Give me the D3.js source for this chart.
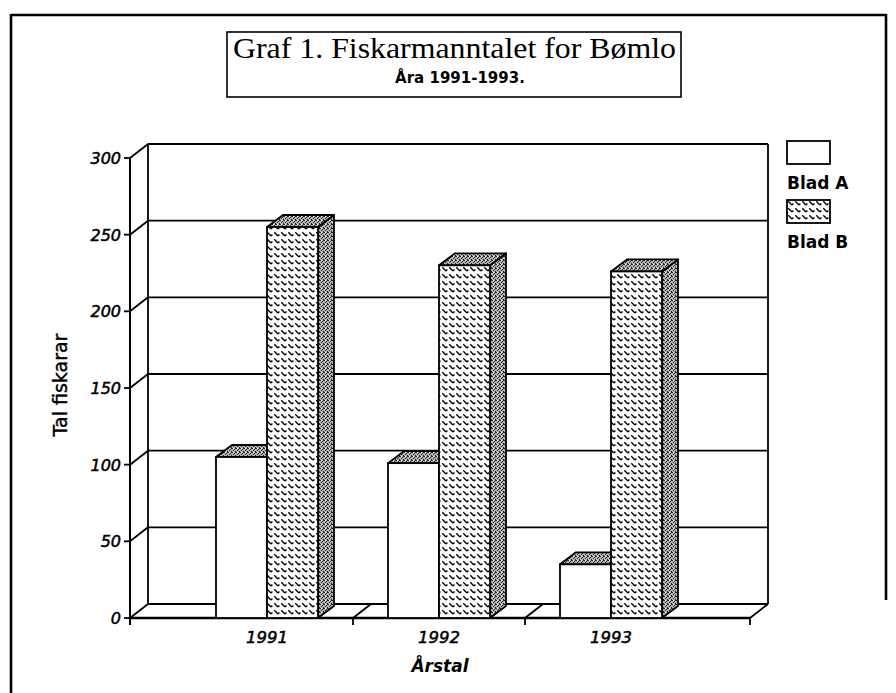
<!DOCTYPE html>
<html>
<head>
<meta charset="utf-8">
<script src="https://cdn.jsdelivr.net/npm/d3@7"></script>
<style>
    body { margin: 0; background: #fff; }
    svg { display: block; }
</style>
</head>
<body>
<svg id="chart"></svg>
<script>
const years = ['1991', '1992', '1993'];
const seriesNames = ['Blad A', 'Blad B'];
const bladA = [105, 101, 35];
const bladB = [255, 230, 226];
const yTicks = [0, 50, 100, 150, 200, 250, 300];

class FiskarChart {
    constructor(_config) {
        this.config = {
            parentElement: _config.parentElement,
            containerWidth: _config.containerWidth || 896,
            containerHeight: _config.containerHeight || 693,
            plot: { left: 130, right: 750, top: 158, bottom: 618 },
            bandRange: [181, 697],
            wall: { dx: 18, dy: -14 },
            bar: { dx: 16, dy: -12 }
        }

        this.data = years.map((y, i) => ({ year: y, values: [bladA[i], bladB[i]] }));

        this.initVis();
    }

    initVis() {
        let vis = this;
        const p = vis.config.plot;

        vis.svg = d3.select(vis.config.parentElement)
            .attr('width', vis.config.containerWidth)
            .attr('height', vis.config.containerHeight);

        const defs = vis.svg.append('defs');

        // diamond plate look for Blad B
        const hatch = defs.append('pattern')
            .attr('id', 'hatch')
            .attr('patternUnits', 'userSpaceOnUse')
            .attr('width', 7)
            .attr('height', 7);
        hatch.append('rect').attr('width', 7).attr('height', 7).attr('fill', '#fff');
        hatch.append('path')
            .attr('d', 'M1.3,1.3 L4.9,4.9 M5,5 L6.4,3.6')
            .attr('stroke', '#000')
            .attr('stroke-width', 1.4);

        // gray stipple for tops and sides
        const stip = defs.append('pattern')
            .attr('id', 'stipple')
            .attr('patternUnits', 'userSpaceOnUse')
            .attr('width', 4)
            .attr('height', 4);
        stip.append('rect').attr('width', 4).attr('height', 4).attr('fill', '#b4b4b4');
        [[0, 0], [2, 1], [1, 2], [3, 3], [3, 0]].forEach(d => {
            stip.append('rect').attr('x', d[0]).attr('y', d[1])
                .attr('width', 1).attr('height', 1).attr('fill', '#222');
        });
        stip.append('rect').attr('x', 1).attr('y', 0).attr('width', 1).attr('height', 1).attr('fill', '#fff');

        vis.yScale = d3.scaleLinear()
            .domain([0, 300])
            .range([p.bottom, p.top]);

        vis.xScale = d3.scaleBand()
            .domain(years)
            .range(vis.config.bandRange)
            .paddingInner(0)
            .paddingOuter(0);

        vis.xInner = d3.scaleBand()
            .domain(seriesNames)
            .range([0, vis.xScale.bandwidth()])
            .paddingInner(0)
            .paddingOuter(0.686);

        vis.chart = vis.svg.append('g');

        vis.updateVis();
    }

    updateVis() {
        let vis = this;
        vis.renderVis();
    }

    renderVis() {
        let vis = this;
        const p = vis.config.plot;
        const w = vis.config.wall;
        const y = vis.yScale;
        const line = (x1, y1, x2, y2, sw) => vis.chart.append('line')
            .attr('x1', x1).attr('y1', y1).attr('x2', x2).attr('y2', y2)
            .attr('stroke', '#000').attr('stroke-width', sw || 1.8);

        // outer frame
        line(11, 15, 886, 15, 2.6);
        line(11, 14, 11, 693, 2.6);
        line(886, 14, 886, 600, 2.6);

        // title box
        vis.chart.append('rect')
            .attr('x', 227).attr('y', 32).attr('width', 454).attr('height', 65)
            .attr('fill', 'none').attr('stroke', '#000').attr('stroke-width', 1.6);
        vis.chart.append('text')
            .text('Graf 1. Fiskarmanntalet for Bømlo')
            .attr('x', 233).attr('y', 58)
            .attr('textLength', 443)
            .attr('lengthAdjust', 'spacingAndGlyphs')
            .style('font-family', '"Liberation Serif", serif')
            .style('font-size', '29px');
        vis.chart.append('text')
            .text('Åra 1991-1993.')
            .attr('x', 460).attr('y', 83)
            .attr('text-anchor', 'middle')
            .style('font-family', '"DejaVu Sans", sans-serif')
            .style('font-weight', 'bold')
            .style('font-size', '15px');

        // back wall gridlines
        yTicks.forEach(t => {
            line(p.left + w.dx, y(t) + w.dy, p.right + w.dx, y(t) + w.dy);
            // left side wall diagonals
            line(p.left, y(t), p.left + w.dx, y(t) + w.dy);
            // tick
            line(p.left - 6, y(t), p.left, y(t));
        });
        line(p.left + w.dx, y(300) + w.dy, p.left + w.dx, y(0) + w.dy);
        line(p.right + w.dx, y(300) + w.dy, p.right + w.dx, y(0) + w.dy);

        // floor
        line(p.left, y(0), p.right, y(0), 2.4);
        line(p.right, y(0), p.right + w.dx, y(0) + w.dy);
        years.slice(1).forEach(yr => {
            const xx = vis.xScale(yr);
            line(xx, y(0), xx + w.dx, y(0) + w.dy);
            line(xx, y(0), xx, y(0) + 7);
        });
        line(p.right, y(0), p.right, y(0) + 7);
        line(p.left, y(300), p.left, y(0) + 7, 2);

        // y tick labels
        vis.chart.selectAll('.ytick')
            .data(yTicks)
            .join('text')
            .attr('class', 'ytick')
            .text(d => d)
            .attr('x', p.left - 9)
            .attr('y', d => y(d) + 6)
            .attr('text-anchor', 'end')
            .attr('stroke', '#000')
            .attr('stroke-width', 0.5)
            .style('font-family', '"DejaVu Sans", sans-serif')
            .style('font-style', 'italic')
            .style('font-size', '16px');

        // bars
        const b = vis.config.bar;
        const bars = [];
        vis.data.forEach(d => {
            d.values.forEach((v, i) => {
                bars.push({ year: d.year, s: seriesNames[i], i: i, v: v });
            });
        });

        const barG = vis.chart.selectAll('.bar')
            .data(bars)
            .join('g')
            .attr('class', 'bar');

        barG.append('path')
            .attr('d', d => {
                const x0 = vis.xScale(d.year) + vis.xInner(d.s);
                const x1 = x0 + vis.xInner.bandwidth();
                const yt = y(d.v), yb = y(0);
                return `M${x1},${yt} L${x1 + b.dx},${yt + b.dy} L${x1 + b.dx},${yb + b.dy} L${x1},${yb} Z`;
            })
            .attr('fill', 'url(#stipple)')
            .attr('stroke', '#000')
            .attr('stroke-width', 1.8)
            .attr('stroke-linejoin', 'round');

        barG.append('path')
            .attr('d', d => {
                const x0 = vis.xScale(d.year) + vis.xInner(d.s);
                const x1 = x0 + vis.xInner.bandwidth();
                const yt = y(d.v);
                return `M${x0},${yt} L${x0 + b.dx},${yt + b.dy} L${x1 + b.dx},${yt + b.dy} L${x1},${yt} Z`;
            })
            .attr('fill', 'url(#stipple)')
            .attr('stroke', '#000')
            .attr('stroke-width', 1.8)
            .attr('stroke-linejoin', 'round');

        barG.append('rect')
            .attr('x', d => vis.xScale(d.year) + vis.xInner(d.s))
            .attr('y', d => y(d.v))
            .attr('width', vis.xInner.bandwidth())
            .attr('height', d => y(0) - y(d.v))
            .attr('fill', d => d.i === 0 ? '#fff' : 'url(#hatch)')
            .attr('stroke', '#000')
            .attr('stroke-width', 1.8);

        // category labels
        vis.chart.selectAll('.xlabel')
            .data(years)
            .join('text')
            .attr('class', 'xlabel')
            .text(d => d)
            .attr('x', d => vis.xScale(d) + vis.xScale.bandwidth() / 2)
            .attr('y', 643)
            .attr('text-anchor', 'middle')
            .attr('stroke', '#000')
            .attr('stroke-width', 0.5)
            .style('font-family', '"DejaVu Sans", sans-serif')
            .style('font-style', 'italic')
            .style('font-size', '16.5px');

        vis.chart.append('text')
            .text('Årstal')
            .attr('x', (p.left + p.right) / 2)
            .attr('y', 672)
            .attr('text-anchor', 'middle')
            .style('font-family', '"DejaVu Sans", sans-serif')
            .style('font-style', 'italic')
            .style('font-weight', 'bold')
            .style('font-size', '17px');

        vis.chart.append('text')
            .text('Tal fiskarar')
            .attr('transform', 'translate(67,385) rotate(-90)')
            .attr('text-anchor', 'middle')
            .attr('stroke', '#000')
            .attr('stroke-width', 0.4)
            .style('font-family', '"DejaVu Sans", sans-serif')
            .style('font-size', '19px');

        // legend
        const legend = vis.chart.selectAll('.legend')
            .data(seriesNames)
            .join('g')
            .attr('class', 'legend')
            .attr('transform', (d, i) => `translate(787, ${141 + i * 59})`);
        legend.append('rect')
            .attr('width', 43).attr('height', 23)
            .attr('fill', (d, i) => i === 0 ? '#fff' : 'url(#hatch)')
            .attr('stroke', '#000').attr('stroke-width', 1.8);
        legend.append('text')
            .text(d => d)
            .attr('x', 0).attr('y', 48)
            .style('font-family', '"DejaVu Sans", sans-serif')
            .style('font-weight', 'bold')
            .style('font-size', '17px');
    }
}

new FiskarChart({ parentElement: '#chart' });
</script>
</body>
</html>
